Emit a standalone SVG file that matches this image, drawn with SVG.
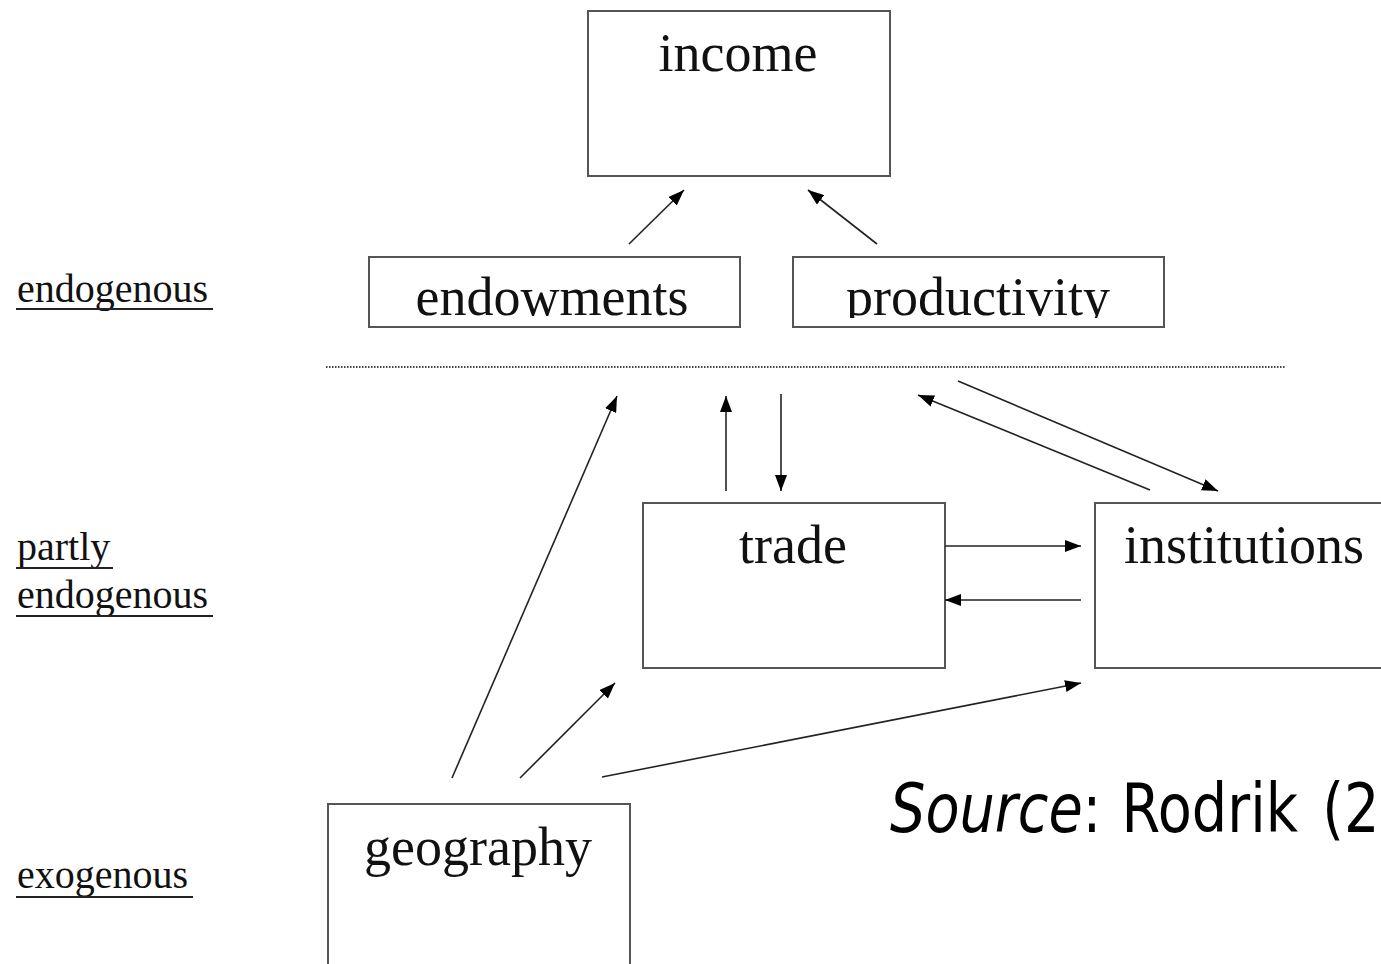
<svg xmlns="http://www.w3.org/2000/svg" width="1381" height="964" viewBox="0 0 1381 964">
<style>
.box{fill:#fff;stroke:#555;stroke-width:2}
.lbl{font-family:"Liberation Serif","Times New Roman",serif;font-size:54px;fill:#111}
.side{font-family:"Liberation Serif","Times New Roman",serif;font-size:40px;fill:#111}
.ul{stroke:#222;stroke-width:2}
.arr{stroke:#222;stroke-width:1.6;fill:none;marker-end:url(#ah)}
.src{font-family:"DejaVu Sans",Verdana,sans-serif;font-size:68px;fill:#000}
</style>
<defs>
<marker id="ah" viewBox="0 0 16 12" refX="16" refY="6" markerWidth="16" markerHeight="12" markerUnits="userSpaceOnUse" orient="auto">
<path d="M0,0 L16,6 L0,12 z" fill="#000"/>
</marker>
<clipPath id="cE"><rect x="369" y="257" width="371" height="61"/></clipPath>
<clipPath id="cP"><rect x="793" y="257" width="371" height="61"/></clipPath>
</defs>
<rect width="1381" height="964" fill="#fff"/>

<g id="side-labels">
<text class="side" x="17" y="302">endogenous</text>
<line class="ul" x1="16" y1="309" x2="213" y2="309"/>
<text class="side" x="17" y="560">partly</text>
<line class="ul" x1="16" y1="568" x2="113" y2="568"/>
<text class="side" x="17" y="608">endogenous</text>
<line class="ul" x1="16" y1="616" x2="213" y2="616"/>
<text class="side" x="17" y="888">exogenous</text>
<line class="ul" x1="16" y1="897" x2="193" y2="897"/>
</g>

<g id="income">
<rect class="box" x="588" y="11" width="302" height="165"/>
<text class="lbl" x="738" y="71" text-anchor="middle">income</text>
</g>
<g id="endowments">
<rect class="box" x="369" y="257" width="371" height="70"/>
<text class="lbl" x="552" y="315" text-anchor="middle" clip-path="url(#cE)">endowments</text>
</g>
<g id="productivity">
<rect class="box" x="793" y="257" width="371" height="70"/>
<text class="lbl" x="978" y="315" text-anchor="middle" clip-path="url(#cP)">productivity</text>
</g>
<g id="trade">
<rect class="box" x="643" y="503" width="302" height="165"/>
<text class="lbl" x="793" y="563" text-anchor="middle">trade</text>
</g>
<g id="institutions">
<rect class="box" x="1095" y="503" width="320" height="165"/>
<text class="lbl" x="1124" y="563">institutions</text>
</g>
<g id="geography">
<rect class="box" x="328" y="804" width="302" height="200"/>
<text class="lbl" x="478" y="865" text-anchor="middle">geography</text>
</g>

<g id="divider">
<line x1="326" y1="367" x2="1285" y2="367" stroke="#444" stroke-width="2" stroke-dasharray="1.5 1.5"/>
</g>

<g id="connectors">
<line class="arr" x1="629" y1="244" x2="684" y2="190"/>
<line class="arr" x1="877" y1="244" x2="808" y2="190"/>
<line class="arr" x1="452" y1="778" x2="617" y2="396"/>
<line class="arr" x1="520" y1="778" x2="615" y2="683"/>
<line class="arr" x1="602" y1="777" x2="1081" y2="683"/>
<line class="arr" x1="726" y1="491" x2="726" y2="396"/>
<line class="arr" x1="781" y1="394" x2="781" y2="491"/>
<line class="arr" x1="958" y1="381" x2="1218" y2="491"/>
<line class="arr" x1="1150" y1="490" x2="918" y2="395"/>
<line class="arr" x1="945" y1="546" x2="1081" y2="546"/>
<line class="arr" x1="1081" y1="600" x2="945" y2="600"/>
</g>

<g id="source">
<text class="src" transform="translate(0,832) scale(0.82,1)"><tspan x="1085.4" y="0" font-style="italic">Source</tspan><tspan x="1320.1" y="0">:</tspan><tspan x="1367.7" y="0" word-spacing="8">Rodrik (2</tspan></text>
</g>
</svg>
